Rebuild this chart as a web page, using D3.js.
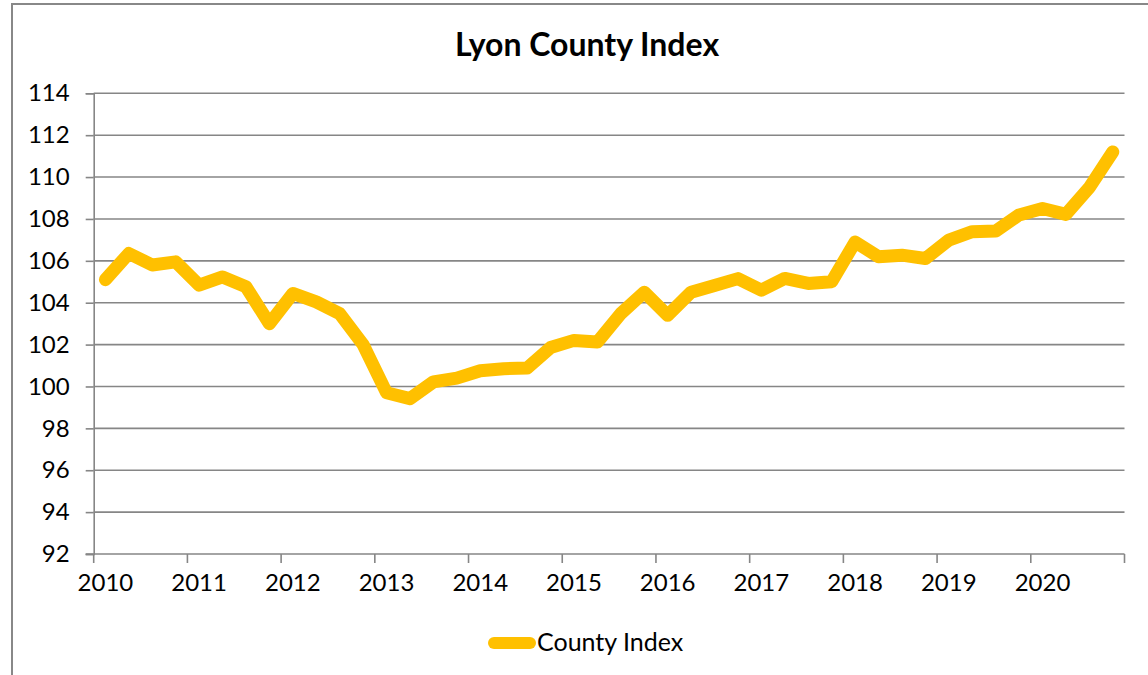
<!DOCTYPE html>
<html>
<head>
<meta charset="utf-8">
<script src="https://cdn.jsdelivr.net/npm/d3@7"></script>
<style>
html,body{margin:0;padding:0;background:#fff;}
svg{display:block;}
text{font-family:Lato,"Open Sans",sans-serif;fill:#000;}
</style>
</head>
<body>
<svg id="chart" width="1148" height="675"></svg>
<script>
const years = ["2010","2011","2012","2013","2014","2015","2016","2017","2018","2019","2020"];
const quarters = ["Q1","Q2","Q3","Q4"];
const categories = years.flatMap(y => quarters.map(q => y + " " + q));
const countyIndex = [105.1, 106.35, 105.8, 105.95, 104.84, 105.23, 104.76, 103.0,
  104.44, 104.04, 103.48, 102.0, 99.7, 99.42, 100.22, 100.4,
  100.75, 100.85, 100.88, 101.86, 102.2, 102.12, 103.48, 104.5,
  103.4, 104.5, 104.82, 105.15, 104.6, 105.16, 104.92, 105.0,
  106.9, 106.2, 106.27, 106.11, 106.99, 107.39, 107.42, 108.19,
  108.5, 108.22, 109.5, 111.2];
const yTicks = [92,94,96,98,100,102,104,106,108,110,112,114];
const seriesName = "County Index";
const chartTitle = "Lyon County Index";

(function(){
const svg = d3.select("#chart");
const gridColor = "#868686";
const lineColor = "#FFC000";

svg.append("rect").attr("x",12).attr("y",4).attr("width",1160).attr("height",700)
  .attr("fill","none").attr("stroke","#888").attr("stroke-width",2);

const mLeft = 93.7, mRight = 1124.5, mTop = 93.3, mBottom = 554;
const x = d3.scaleBand().domain(categories).range([mLeft,mRight]).paddingInner(0).paddingOuter(0);
const y = d3.scaleLinear().domain([92,114]).range([mBottom,mTop]);

svg.append("g").selectAll("line").data(yTicks.filter(t=>t!==92)).join("line")
  .attr("x1",mLeft).attr("x2",mRight).attr("y1",d=>y(d)).attr("y2",d=>y(d))
  .attr("stroke",gridColor).attr("stroke-width",1.6);

const yAxis = d3.axisLeft(y).tickValues(yTicks).tickSize(8).tickPadding(16).tickFormat(d3.format("d"));
const gy = svg.append("g").attr("transform",`translate(${mLeft},0)`).call(yAxis);
gy.select(".domain").attr("stroke",gridColor).attr("stroke-width",1.6);
gy.selectAll(".tick line").attr("stroke",gridColor).attr("stroke-width",1.6);
gy.selectAll(".tick text").attr("font-size",24).attr("font-family","Lato").attr("fill","#000");

const tickCats = categories.filter((c,i)=>i%4===0);
const xAxis = d3.axisBottom(x).tickValues(tickCats).tickSize(0).tickPadding(20).tickFormat(d=>d.slice(0,4));
const gx = svg.append("g").attr("transform",`translate(0,${mBottom})`).call(xAxis);
gx.select(".domain").remove();
gx.selectAll(".tick text").attr("font-size",24).attr("font-family","Lato").attr("fill","#000");
const gxl = svg.append("g");
gxl.append("line").attr("x1",mLeft-8).attr("x2",mRight).attr("y1",mBottom).attr("y2",mBottom)
  .attr("stroke",gridColor).attr("stroke-width",1.6);
const boundaries = tickCats.map(c=>x(c)).concat([x(categories[categories.length-1])+x.bandwidth()]);
gxl.selectAll("line.tk").data(boundaries).join("line").attr("class","tk")
  .attr("x1",d=>d).attr("x2",d=>d).attr("y1",mBottom).attr("y2",mBottom+9)
  .attr("stroke",gridColor).attr("stroke-width",1.6);

const line = d3.line().x((d,i)=>x(categories[i])+x.bandwidth()/2).y(d=>y(d));
svg.append("path").datum(countyIndex).attr("d",line)
  .attr("fill","none").attr("stroke",lineColor).attr("stroke-width",13)
  .attr("stroke-linejoin","round").attr("stroke-linecap","round");

svg.append("text").attr("x",587).attr("y",56).attr("text-anchor","middle")
  .attr("font-size",32).attr("font-weight","bold").text(chartTitle);

svg.append("line").attr("x1",494).attr("x2",530).attr("y1",643).attr("y2",643)
  .attr("stroke",lineColor).attr("stroke-width",12).attr("stroke-linecap","round");
svg.append("text").attr("x",537).attr("y",651).attr("font-size",25).text(seriesName);
})();
</script>
</body>
</html>
